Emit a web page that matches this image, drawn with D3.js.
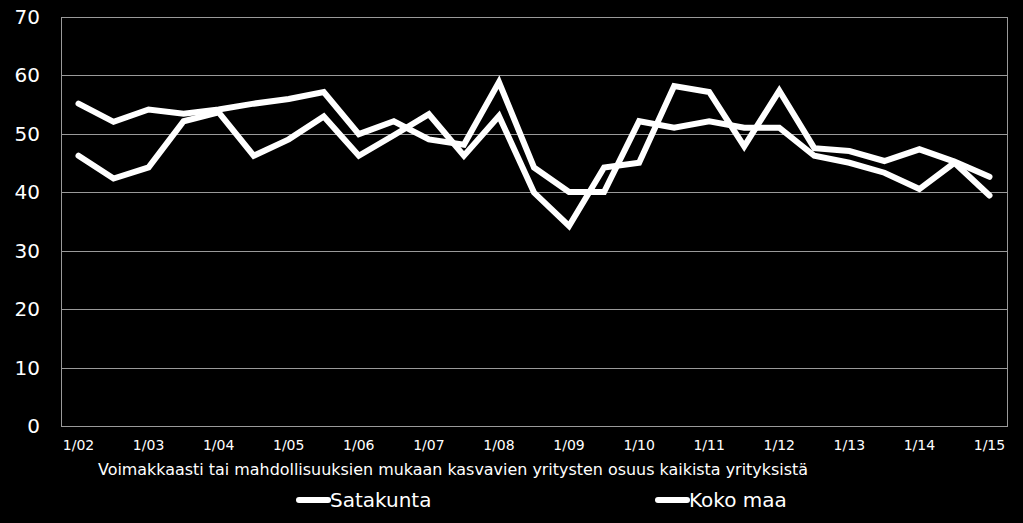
<!DOCTYPE html>
<html>
<head>
<meta charset="utf-8">
<script src="https://cdn.jsdelivr.net/npm/d3@7"></script>
<style>
	body { margin: 0; background: #000; }
	svg { display: block; background: #000; font-family: 'DejaVu Sans', Verdana, sans-serif; }
	.grid-line { stroke: #9a9a9a; stroke-width: 1; shape-rendering: crispEdges; }
	.plot-frame { fill: none; stroke: #9a9a9a; stroke-width: 1; shape-rendering: crispEdges; }
	.y-text { fill: #fff; font-size: 20px; }
	.x-text { fill: #fff; font-size: 14px; }
	.axis-title { fill: #fff; font-size: 16px; }
	.legend-text { fill: #fff; font-size: 20px; }
	.series-line { fill: none; stroke: #fff; stroke-width: 6; stroke-linejoin: miter; stroke-linecap: round; }
	.legend-line { stroke: #fff; stroke-width: 6; stroke-linecap: round; }
</style>
</head>
<body>
<svg width="1023" height="523"></svg>
<script>
// half-year points, only the "1/yy" ones get a label
var periods = ['1/02','7/02','1/03','7/03','1/04','7/04','1/05','7/05','1/06','7/06','1/07','7/07',
	'1/08','7/08','1/09','7/09','1/10','7/10','1/11','7/11','1/12','7/12','1/13','7/13','1/14','7/14','1/15'];

var satakunta = [46.2, 42.3, 44.2, 52.1, 53.6, 46.2, 49.0, 52.9, 46.2, 49.7, 53.3, 46.2, 53.0, 39.9,
	34.2, 44.2, 45.0, 58.1, 57.1, 47.8, 57.3, 47.5, 47.0, 45.3, 47.3, 45.2, 42.6];

var kokoMaa = [55.1, 52.0, 54.1, 53.4, 54.1, 55.1, 55.9, 57.1, 49.9, 52.1, 49.0, 48.1, 58.8, 44.2,
	40.0, 40.0, 52.1, 51.0, 52.1, 51.0, 51.0, 46.2, 45.0, 43.3, 40.5, 45.0, 39.4];

var yTicks = [0, 10, 20, 30, 40, 50, 60, 70];
var seriesNames = ['Satakunta', 'Koko maa'];
var axisTitle = 'Voimakkaasti tai mahdollisuuksien mukaan kasvavien yritysten osuus kaikista yrityksistä';

function GrowthChartView(){

}

GrowthChartView.prototype.render = function(options){
	this.options = options;
	this.svg = d3.select('svg');

	this.x = d3.scalePoint()
		.domain(periods)
		.range([options.left, options.right])
		.padding(0.5);
	this.y = d3.scaleLinear()
		.domain([0, 70])
		.range([options.bottom, options.top]);

	this.addGrid();
	this.addYLabels();
	this.addXLabels();
	this.addSeries(satakunta);
	this.addSeries(kokoMaa);
	this.addTitle();
	this.addLegend();
}

GrowthChartView.prototype.addGrid = function(){
	var o = this.options, y = this.y;
	var g = this.svg.append('g').attr('class', 'grid');
	g.selectAll('line')
		.data(yTicks.filter(function(t){ return t > 0 && t < 70; }))
		.enter().append('line')
		.attr('class', 'grid-line')
		.attr('x1', o.left)
		.attr('x2', o.right)
		.attr('y1', function(d){ return Math.round(y(d)) + 0.5; })
		.attr('y2', function(d){ return Math.round(y(d)) + 0.5; });
	g.append('rect')
		.attr('class', 'plot-frame')
		.attr('x', o.left + 0.5)
		.attr('y', Math.round(y(70)) + 0.5)
		.attr('width', o.right - o.left)
		.attr('height', Math.round(y(0)) - Math.round(y(70)));
}

GrowthChartView.prototype.addYLabels = function(){
	var y = this.y;
	this.svg.append('g').selectAll('text')
		.data(yTicks)
		.enter().append('text')
		.attr('class', 'y-text')
		.attr('x', 40)
		.attr('y', function(d){ return y(d); })
		.attr('dy', '0.36em')
		.attr('text-anchor', 'end')
		.text(function(d){ return d; });
}

GrowthChartView.prototype.addXLabels = function(){
	var x = this.x;
	this.svg.append('g').selectAll('text')
		.data(periods.filter(function(p){ return p.indexOf('1/') === 0; }))
		.enter().append('text')
		.attr('class', 'x-text')
		.attr('x', function(d){ return x(d); })
		.attr('y', 450)
		.attr('text-anchor', 'middle')
		.text(function(d){ return d; });
}

GrowthChartView.prototype.addSeries = function(values){
	var x = this.x, y = this.y;
	var line = d3.line()
		.x(function(d, i){ return x(periods[i]); })
		.y(function(d){ return y(d); });
	this.svg.append('path')
		.datum(values)
		.attr('class', 'series-line')
		.attr('d', line);
}

GrowthChartView.prototype.addTitle = function(){
	this.svg.append('text')
		.attr('class', 'axis-title')
		.attr('x', 98)
		.attr('y', 475)
		.attr('textLength', 710)
		.attr('lengthAdjust', 'spacingAndGlyphs')
		.text(axisTitle);
}

GrowthChartView.prototype.addLegend = function(){
	var starts = [297, 656];
	var g = this.svg.append('g').attr('class', 'legend');
	var items = g.selectAll('g')
		.data(seriesNames)
		.enter().append('g')
		.attr('transform', function(d, i){ return 'translate(' + starts[i] + ',500)'; });
	items.append('line')
		.attr('class', 'legend-line')
		.attr('x1', 2).attr('x2', 31)
		.attr('y1', 0).attr('y2', 0);
	items.append('text')
		.attr('class', 'legend-text')
		.attr('x', 33)
		.attr('dy', '0.36em')
		.text(function(d){ return d; });
}

new GrowthChartView().render({ left: 61, right: 1007, top: 16.5, bottom: 426 });
</script>
</body>
</html>
